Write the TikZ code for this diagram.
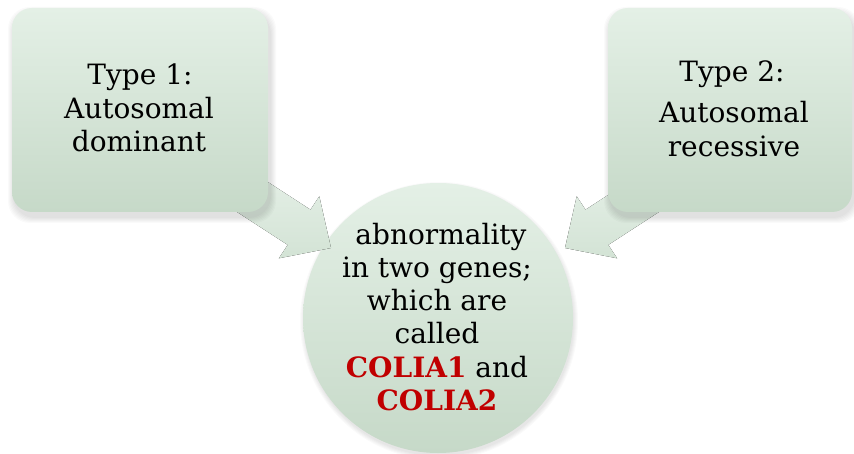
\documentclass[tikz,border=0pt]{standalone}
\usepackage{fontspec}
\setmainfont{DejaVu Serif}
\definecolor{gtop}{HTML}{E4F0E6}
\definecolor{gbot}{HTML}{C6D9C8}
\definecolor{atop}{HTML}{E8F2EA}
\definecolor{abot}{HTML}{D3E3D5}
\definecolor{redtxt}{HTML}{C00000}
\tikzset{
  lbl/.style={font=\fontsize{28}{33}\selectfont, anchor=base, inner sep=0pt, text=black},
  redlbl/.style={lbl, font=\fontsize{28}{33}\selectfont\bfseries, text=redtxt},
  boxshape/.style={rectangle, rounded corners=20pt, top color=gtop, bottom color=gbot, draw=none},
  arrowfill/.style={top color=atop, bottom color=abot, draw=none},
}
\begin{document}
\begin{tikzpicture}[x=1pt,y=-1pt]
\useasboundingbox (0,0) rectangle (854,454);
% circle shadow
\foreach \i in {1,...,5}
  \fill[black, opacity=0.018] (439,321) circle ({134+\i});
\node[circle, minimum size=270pt, inner sep=0pt, top color=gtop, bottom color=gbot, draw=none] (mid) at (438,318) {};
% arrows
\coordinate (tipL) at (331,248);
\coordinate (tipR) at (565,248);
\fill[arrowfill] (226.6,155.2) -- (310.5,209.7) -- (319.3,196.3) -- (tipL) -- (278.9,258.3) -- (287.7,244.9) -- (203.8,190.4) -- cycle;
\fill[arrowfill] (669.4,155.2) -- (585.5,209.7) -- (576.7,196.3) -- (tipR) -- (617.1,258.3) -- (608.3,244.9) -- (692.2,190.4) -- cycle;
% box shadows
\foreach \i in {1,...,6} {
  \fill[black, opacity=0.018, rounded corners=22pt] ({12-\i+2},{8-\i+5}) rectangle ({268+\i+2},{212+\i+5});
  \fill[black, opacity=0.018, rounded corners=22pt] ({608-\i+2},{8-\i+5}) rectangle ({852+\i+2},{212+\i+5});
}
\node[boxshape, minimum width=256pt, minimum height=204pt, inner sep=0pt] (boxL) at (140,110) {};
\node[boxshape, minimum width=244pt, minimum height=204pt, inner sep=0pt] (boxR) at (730,110) {};
% left box text
\node[lbl] (l1) at (140,85) {Type 1:};
\node[lbl] (l2) at (139,119) {Autosomal};
\node[lbl] (l3) at (139,152) {dominant};
% right box text
\node[lbl] (r1) at (732,82) {Type 2:};
\node[lbl] (r2) at (734,123) {Autosomal};
\node[lbl] (r3) at (734,157) {recessive};
% circle text
\node[lbl] (c1) at (441,245) {abnormality};
\node[lbl] (c2) at (437,278) {in two genes;};
\node[lbl] (c3) at (437,311) {which are};
\node[lbl] (c4) at (437,343) {called};
\node[lbl] (c5) at (437,377) {\textcolor{redtxt}{\bfseries COLIA1} and};
\node[redlbl] (c6) at (437,410) {COLIA2};
\end{tikzpicture}
\end{document}
